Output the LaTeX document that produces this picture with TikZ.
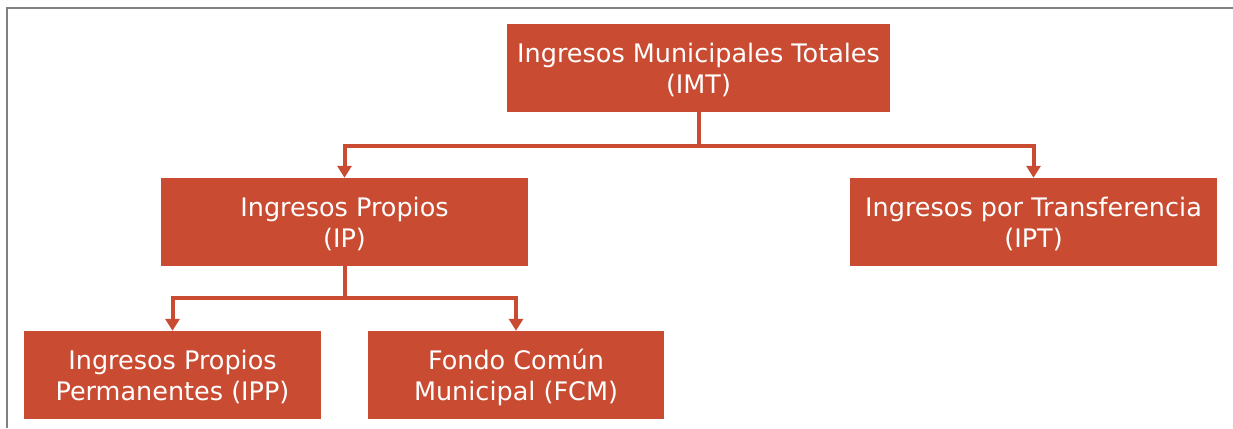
\documentclass[tikz,border=0pt]{standalone}
\usepackage{fontspec}
\setmainfont{DejaVu Sans}
\usetikzlibrary{arrows.meta}
\definecolor{boxred}{RGB}{200,75,50}
\definecolor{framegray}{RGB}{128,128,128}
\begin{document}
\begin{tikzpicture}[x=1pt,y=-1pt,
  box/.style={fill=boxred, text=white, inner sep=0pt, align=center,
    font=\fontsize{25.5}{31}\selectfont, text depth=0pt,
    minimum height=88pt, anchor=center},
  link/.style={draw=boxred, line width=4pt},
  conn/.style={link, -{Triangle[width=14pt,length=12pt]}}]
\useasboundingbox (0,0) rectangle (1233,428);
\draw[framegray, line width=2pt] (1233,8.5) -- (6.5,8.5) -- (6.5,428);
\node[box, minimum width=383pt] (imt) at (698.5,68) {Ingresos Municipales Totales\\(IMT)};
\node[box, minimum width=367pt] (ip) at (344.5,222) {Ingresos Propios\\(IP)};
\node[box, minimum width=367pt] (ipt) at (1033.5,222) {Ingresos por Transferencia\\(IPT)};
\node[box, minimum width=297pt] (ipp) at (172.5,375) {Ingresos Propios\\Permanentes (IPP)};
\node[box, minimum width=296pt] (fcm) at (516,375) {Fondo Común\\Municipal (FCM)};
\coordinate (j1) at (698.5,146);
\coordinate (j2) at (344.5,298);
\draw[link] (imt.south) -- (j1);
\draw[conn] (j1) -| (ip.north);
\draw[conn] (j1) -| (ipt.north);
\draw[link] (ip.south) -- (j2);
\draw[conn] (j2) -| (ipp.north);
\draw[conn] (j2) -| (fcm.north);
\end{tikzpicture}
\end{document}
